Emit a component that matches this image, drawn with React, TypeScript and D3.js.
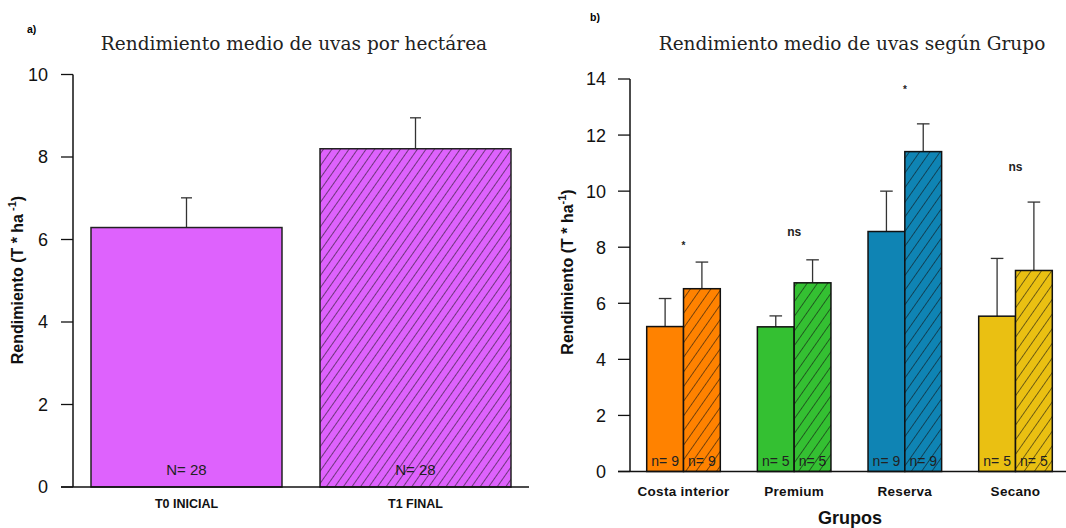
import React from "react";
import * as d3 from "d3";

// ---------- Panel a) data ----------
const leftCategories = ["T0 INICIAL", "T1 FINAL"];
const leftMeans = [6.29, 8.2];
const leftUpper = [7.01, 8.95];
const leftN = [28, 28];
const leftTicks = [0, 2, 4, 6, 8, 10];

// ---------- Panel b) data ----------
const groups = ["Costa interior", "Premium", "Reserva", "Secano"];
const t0Means = [5.17, 5.16, 8.56, 5.54];
const t0Upper = [6.17, 5.55, 10.0, 7.6];
const t1Means = [6.52, 6.73, 11.41, 7.17];
const t1Upper = [7.47, 7.55, 12.4, 9.61];
const groupN = [9, 5, 9, 5];
const signif = ["*", "ns", "*", "ns"];
const signifLevel = [7.95, 8.4, 13.5, 10.72];
const rightTicks = [0, 2, 4, 6, 8, 10, 12, 14];

const groupColors = ["#FF8200", "#34C032", "#0F84B4", "#EAC012"];
const purple = "#DE62FD";

const SANS = "'Liberation Sans', Arial, sans-serif";
const SERIF = "'DejaVu Serif', serif";

export default function App() {
  // scales panel a
  const yL = d3.scaleLinear().domain([0, 10]).range([487, 74.5]);
  const xL = d3
    .scaleBand<string>()
    .domain(leftCategories)
    .range([73, 529])
    .paddingInner(0.166)
    .paddingOuter(0.0786);

  // scales panel b
  const yR = d3.scaleLinear().domain([0, 14]).range([471.5, 79]);
  const xR = d3
    .scaleBand<string>()
    .domain(groups)
    .range([630, 1069])
    .paddingInner(0.335)
    .paddingOuter(0.151);
  const xSub = d3
    .scaleBand<string>()
    .domain(["T0", "T1"])
    .range([0, xR.bandwidth()]);

  const errStroke = "#333";

  return (
    <svg
      width={1066}
      height={528}
      style={{ position: "absolute", left: 0, top: 0, background: "#fff" }}
    >
      <defs>
        <pattern
          id="hatchL"
          patternUnits="userSpaceOnUse"
          width={7}
          height={7}
          patternTransform="rotate(35)"
        >
          <line x1={0} y1={-1} x2={0} y2={8} stroke="#111" strokeWidth={1.1} />
        </pattern>
        <pattern
          id="hatchR"
          patternUnits="userSpaceOnUse"
          width={8.4}
          height={8.4}
          patternTransform="rotate(35)"
        >
          <line x1={0} y1={-1} x2={0} y2={10} stroke="#111" strokeWidth={1.1} />
        </pattern>
      </defs>

      {/* ---------------- Panel a ---------------- */}
      <text x={27} y={33} fontFamily={SANS} fontWeight="bold" fontSize={10.5}>
        a)
      </text>
      <text
        x={294}
        y={50}
        textAnchor="middle"
        fontFamily={SERIF}
        fontSize={18.5}
        fill="#222"
      >
        Rendimiento medio de uvas por hectárea
      </text>

      {/* bars */}
      {leftCategories.map((c, i) => {
        const x = xL(c)!;
        const w = xL.bandwidth();
        const yTop = yL(leftMeans[i]);
        const cx = x + w / 2;
        return (
          <g key={c}>
            <line x1={cx} x2={cx} y1={yTop} y2={yL(leftUpper[i])} stroke={errStroke} strokeWidth={1.3} />
            <line x1={cx - 5.5} x2={cx + 5.5} y1={yL(leftUpper[i])} y2={yL(leftUpper[i])} stroke={errStroke} strokeWidth={1.3} />
            <rect x={x} y={yTop} width={w} height={yL(0) - yTop} fill={purple} />
            <text x={cx} y={yL(0) - 12} textAnchor="middle" fontFamily={SANS} fontSize={15} fill="#222">
              N= {leftN[i]}
            </text>
            {i === 1 && (
              <rect x={x} y={yTop} width={w} height={yL(0) - yTop} fill="url(#hatchL)" />
            )}
            <rect x={x} y={yTop} width={w} height={yL(0) - yTop} fill="none" stroke="#222" strokeWidth={1.5} />
            <text x={cx} y={508} textAnchor="middle" fontFamily={SANS} fontWeight="bold" fontSize={12.5} fill="#111">
              {c}
            </text>
          </g>
        );
      })}

      {/* axes a */}
      <line x1={73} x2={73} y1={yL(10)} y2={yL(0)} stroke="#111" strokeWidth={1.5} />
      <line x1={61} x2={529} y1={yL(0)} y2={yL(0)} stroke="#111" strokeWidth={1.5} />
      {leftTicks.map((t) => (
        <g key={t}>
          <line x1={61} x2={73} y1={yL(t)} y2={yL(t)} stroke="#111" strokeWidth={1.3} />
          <text x={48} y={yL(t)} dy="0.36em" textAnchor="end" fontFamily={SANS} fontSize={18} fill="#111">
            {t}
          </text>
        </g>
      ))}
      <text
        transform="translate(23,280) rotate(-90)"
        textAnchor="middle"
        fontFamily={SANS}
        fontWeight="bold"
        fontSize={16}
        fill="#111"
      >
        Rendimiento (T * ha
        <tspan fontSize={11} dy={-7}> -1</tspan>
        <tspan dy={7}>)</tspan>
      </text>

      {/* ---------------- Panel b ---------------- */}
      <text x={590} y={21} fontFamily={SANS} fontWeight="bold" fontSize={10.5}>
        b)
      </text>
      <text
        x={852}
        y={50}
        textAnchor="middle"
        fontFamily={SERIF}
        fontSize={18.5}
        fill="#222"
      >
        Rendimiento medio de uvas según Grupo
      </text>

      {groups.map((g, i) => {
        const gx = xR(g)!;
        const bw = xSub.bandwidth();
        const bars = [
          { k: "T0", m: t0Means[i], u: t0Upper[i] },
          { k: "T1", m: t1Means[i], u: t1Upper[i] },
        ];
        return (
          <g key={g}>
            {bars.map((b, j) => {
              const x = gx + xSub(b.k)!;
              const yTop = yR(b.m);
              const cx = x + bw / 2;
              return (
                <g key={b.k}>
                  <line x1={cx} x2={cx} y1={yTop} y2={yR(b.u)} stroke={errStroke} strokeWidth={1.3} />
                  <line x1={cx - 6.3} x2={cx + 6.3} y1={yR(b.u)} y2={yR(b.u)} stroke={errStroke} strokeWidth={1.3} />
                  <rect x={x} y={yTop} width={bw} height={yR(0) - yTop} fill={groupColors[i]} />
                  <text x={cx} y={yR(0) - 6} textAnchor="middle" fontFamily={SANS} fontSize={14} fill="#222">
                    n= {groupN[i]}
                  </text>
                  {j === 1 && (
                    <rect x={x} y={yTop} width={bw} height={yR(0) - yTop} fill="url(#hatchR)" />
                  )}
                  <rect x={x} y={yTop} width={bw} height={yR(0) - yTop} fill="none" stroke="#111" strokeWidth={1.5} />
                </g>
              );
            })}
            <text
              x={gx + xR.bandwidth() / 2}
              y={yR(signifLevel[i])}
              textAnchor="middle"
              fontFamily={SANS}
              fontWeight="bold"
              fontSize={signif[i] === "*" ? 10 : 12}
              fill="#222"
            >
              {signif[i]}
            </text>
            <text
              x={gx + xR.bandwidth() / 2}
              y={496}
              textAnchor="middle"
              fontFamily={SANS}
              fontWeight="bold"
              fontSize={13.5}
              letterSpacing={0.3}
              fill="#111"
            >
              {g}
            </text>
          </g>
        );
      })}

      {/* axes b */}
      <line x1={630} x2={630} y1={yR(14)} y2={yR(0)} stroke="#111" strokeWidth={1.5} />
      <line x1={618} x2={1066} y1={yR(0)} y2={yR(0)} stroke="#111" strokeWidth={1.5} />
      {rightTicks.map((t) => (
        <g key={t}>
          <line x1={618} x2={630} y1={yR(t)} y2={yR(t)} stroke="#111" strokeWidth={1.3} />
          <text x={606} y={yR(t)} dy="0.36em" textAnchor="end" fontFamily={SANS} fontSize={18} fill="#111">
            {t}
          </text>
        </g>
      ))}
      <text
        transform="translate(573,272) rotate(-90)"
        textAnchor="middle"
        fontFamily={SANS}
        fontWeight="bold"
        fontSize={16}
        fill="#111"
      >
        Rendimiento (T * ha
        <tspan fontSize={11} dy={-7}>-1</tspan>
        <tspan dy={7}>)</tspan>
      </text>
      <text x={850} y={524} textAnchor="middle" fontFamily={SANS} fontWeight="bold" fontSize={18} fill="#111">
        Grupos
      </text>
    </svg>
  );
}
